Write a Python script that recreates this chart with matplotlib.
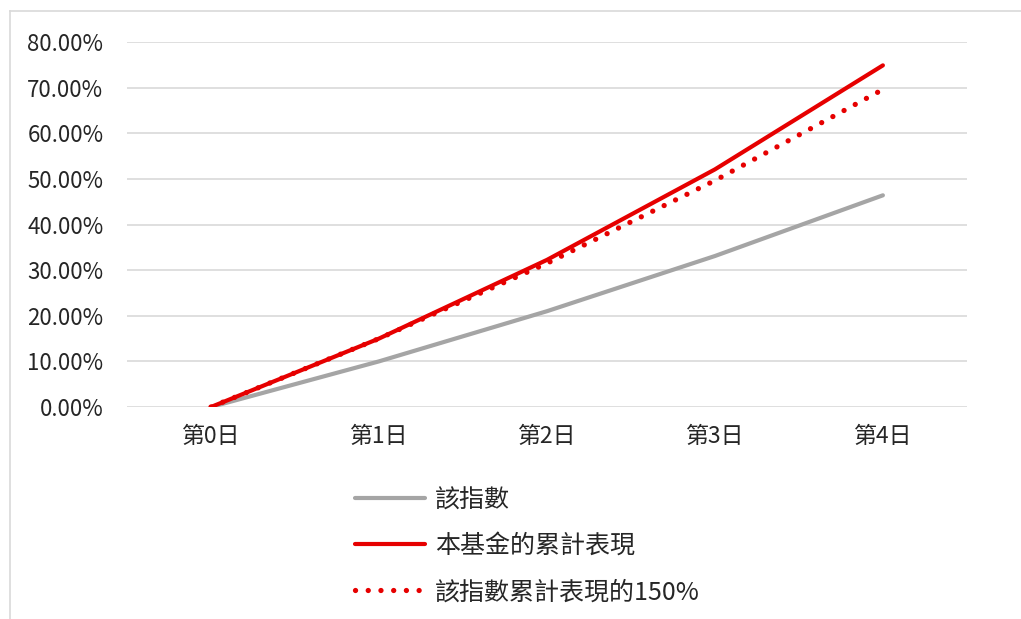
import matplotlib
matplotlib.use("Agg")
import matplotlib.pyplot as plt
from matplotlib.lines import Line2D
from matplotlib.ticker import FuncFormatter

plt.rcParams['font.family'] = ['Noto Sans CJK TC', 'DejaVu Sans']

days = ["第0日", "第1日", "第2日", "第3日", "第4日"]
index_ret = [0.0, 0.10, 0.21, 0.331, 0.4641]
fund_ret = [0.0, 0.15, 0.3225, 0.5209, 0.749]
index_x150 = [0.0, 0.15, 0.315, 0.4965, 0.6962]
labels = ["該指數", "本基金的累計表現", "該指數累計表現的150%"]

fig = plt.figure(figsize=(10.21, 6.19), dpi=100)
ax = fig.add_axes([0.1244, 0.3425, 0.8226, 0.5895])

x = range(len(days))
ax.plot(x, index_ret, color="#A5A5A5", lw=3.0, solid_capstyle="round", label=labels[0])
ax.plot(x, fund_ret, color="#E60000", lw=3.0, solid_capstyle="round", label=labels[1])
ax.plot(x, index_x150, color="#E60000", lw=3.8, linestyle=(0, (0.01, 2.4)),
        dash_capstyle="round", label=labels[2])

ax.set_xlim(-0.5, 4.5)
ax.set_ylim(0, 0.8)
ax.set_yticks([i / 10 for i in range(9)])
ax.yaxis.set_major_formatter(FuncFormatter(lambda v, p: f"{v * 100:.2f}%"))
ax.set_xticks(list(x))
ax.set_xticklabels(days)
ax.tick_params(axis="both", length=0, labelsize=16, colors="#262626")
ax.tick_params(axis="x", labelsize=16.5)
ax.tick_params(axis="y", pad=17)
ax.tick_params(axis="x", pad=13)
ax.grid(axis="y", color="#D9D9D9", lw=1.2)
ax.set_axisbelow(True)
for s in ax.spines.values():
    s.set_visible(False)

leg = fig.legend(loc="upper left", bbox_to_anchor=(0.3477, 0.213), frameon=False,
                 fontsize=18, handlelength=2.8, handletextpad=0.4, labelspacing=0.8,
                 borderpad=0, borderaxespad=0)
for t in leg.get_texts():
    t.set_color("#262626")

# thin frame on the top and left edge
fig.add_artist(Line2D([0.0098, 1.0], [1 - 11 / 619] * 2, color="#D9D9D9", lw=1.2))
fig.add_artist(Line2D([0.0098, 0.0098], [0.0, 1 - 11 / 619], color="#D9D9D9", lw=1.2))

fig.savefig("out.png", dpi=100)
